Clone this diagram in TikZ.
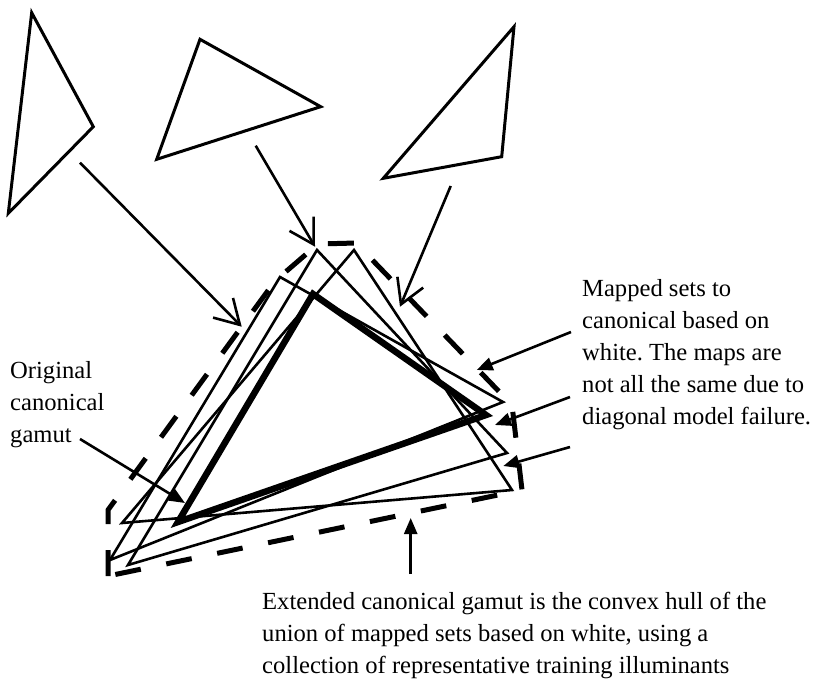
\documentclass[tikz,border=0pt]{standalone}
\usepackage{fontspec}
\setmainfont{Liberation Serif}
\usetikzlibrary{arrows.meta}
\frenchspacing
\begin{document}
\begin{tikzpicture}[x=1pt,y=-1pt,
  thinln/.style={line width=2.6pt, line join=miter},
  topln/.style={line width=3pt, line join=miter},
  thickln/.style={line width=6.5pt, line join=miter},
  hull/.style={line width=5pt, dash pattern=on 26pt off 26pt},
  openarr/.style={line width=2.6pt, -{Straight Barb[length=24pt,width=28pt]}},
  fillarr/.style={line width=2.6pt, -{Triangle[length=16pt,width=13pt]}},
  lbl/.style={inner sep=0pt, align=left, anchor=north west, font=\fontsize{24.6}{32}\selectfont}
]
\useasboundingbox (0,0) rectangle (827,691);

% source triangles
\draw[topln] (31.7,12.7) -- (93.3,126.7) -- (8.3,213.3) -- cycle;
\draw[topln] (200,39.3) -- (320.7,106.7) -- (156.7,159.3) -- cycle;
\draw[topln] (514,26.7) -- (501.7,156.7) -- (383.3,178.3) -- cycle;

% mapped triangles
\draw[thinln] (317,250) -- (507,453) -- (128,565) -- cycle;
\draw[thinln] (354,250) -- (512,490) -- (122,523) -- cycle;
\draw[thinln] (280,277) -- (503,402) -- (110,560) -- cycle;
% original canonical gamut
\draw[thickln] (313,294) -- (486,415) -- (178,522) -- cycle;
% extended hull
\draw[hull] (108,576) -- (108,510) -- (275,281) -- (318,244) -- (356,243) -- (512,405) -- (522,490) -- cycle;

% labels
\node[lbl] (orig) at (10,361) {Original\\canonical\\gamut};
\node[lbl] (mapped) at (582,279) {Mapped sets to\\canonical based on\\white. The maps are\\not all the same due to\\diagonal model failure.};
\node[lbl] (ext) at (262,592) {Extended canonical gamut is the convex hull of the\\union of mapped sets based on white, using a\\collection of representative training illuminants};

% connector end points
\coordinate (s1) at (80,162.7);   \coordinate (t1) at (241.7,326.7);
\coordinate (s2) at (255.7,145.7);\coordinate (t2) at (315,246.7);
\coordinate (s3) at (450.7,186);  \coordinate (t3) at (400,306.7);
\coordinate (s4) at (571,332);    \coordinate (t4) at (476.7,370);
\coordinate (s5) at (570,397);    \coordinate (t5) at (495,425);
\coordinate (s6) at (570,447);    \coordinate (t6) at (503.3,466);
\coordinate (s7) at (80,439);     \coordinate (t7) at (185,503);
\coordinate (s8) at (410.7,574);  \coordinate (t8) at (410.7,518);

\draw[openarr] (s1) -- (t1);
\draw[openarr] (s2) -- (t2);
\draw[openarr] (s3) -- (t3);
\draw[fillarr] (s4) -- (t4);
\draw[fillarr] (s5) -- (t5);
\draw[fillarr] (s6) -- (t6);
\draw[fillarr] (s7) -- (t7);
\draw[fillarr] (s8) -- (t8);
\end{tikzpicture}
\end{document}
